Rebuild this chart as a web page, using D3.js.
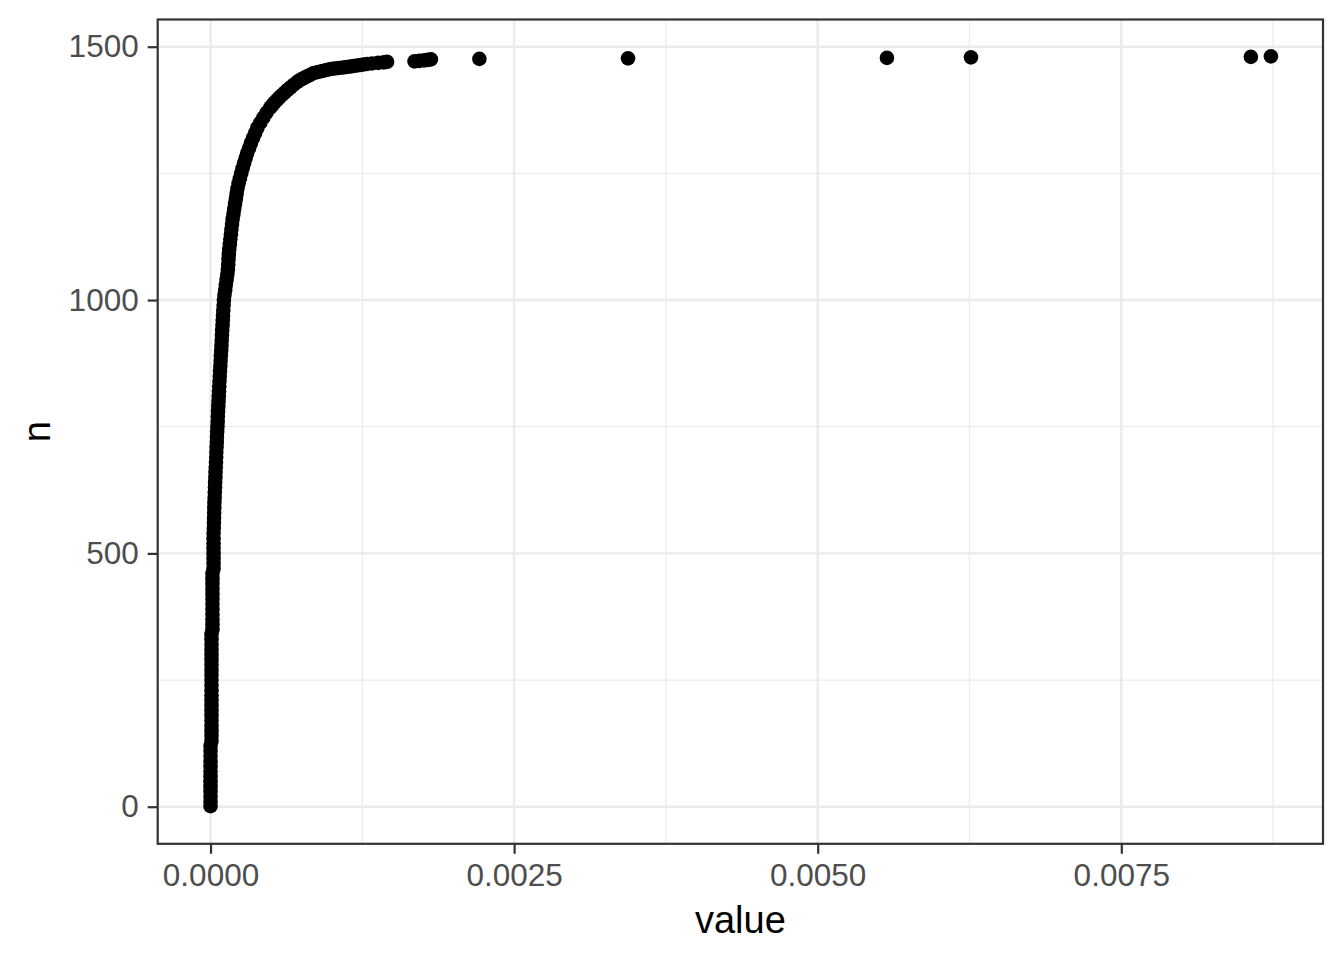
<!DOCTYPE html>
<html>
<head>
<meta charset="utf-8">
<script src="https://cdn.jsdelivr.net/npm/d3@7"></script>
<style>
  body { margin: 0; background: #fff; }
  svg { display: block; font-family: "Liberation Sans", Arial, sans-serif; }
</style>
</head>
<body>
<svg id="chart" width="1344" height="960"></svg>
<script>
// rank n and value (in units of 1e-6)
var ranks = [
  1, 10, 20, 30, 40, 50, 60, 70, 80, 90,
  100, 110, 120, 130, 140, 150, 160, 170, 180, 190,
  200, 210, 220, 230, 240, 250, 260, 270, 280, 290,
  300, 310, 320, 330, 340, 350, 360, 370, 380, 390,
  400, 410, 420, 430, 440, 450, 460, 470, 480, 490,
  500, 510, 520, 530, 540, 550, 560, 570, 580, 590,
  600, 610, 620, 630, 640, 650, 660, 670, 680, 690,
  700, 710, 720, 730, 740, 750, 760, 770, 780, 790,
  800, 810, 820, 830, 840, 850, 860, 870, 880, 890,
  900, 910, 920, 930, 940, 950, 960, 970, 980, 990,
  1000, 1010, 1020, 1030, 1040, 1050, 1060, 1070, 1080, 1090,
  1100, 1110, 1120, 1130, 1140, 1150, 1160, 1170, 1180, 1190,
  1200, 1210, 1220, 1230, 1240, 1250, 1260, 1270, 1280, 1290,
  1300, 1310, 1320, 1330, 1340, 1350, 1360, 1370, 1380,
  1385, 1390, 1395, 1400, 1405, 1410, 1415, 1420, 1425, 1430,
  1433, 1436, 1439, 1442, 1445, 1448, 1450, 1452, 1454, 1456,
  1457, 1458, 1459, 1460, 1461, 1462, 1463, 1464, 1465, 1466,
  1467, 1468, 1469,
  1470, 1471, 1472, 1473, 1474, 1475, 1476, 1477, 1478, 1479, 1480, 1481
];
var valuesE6 = [
  0, 0, 0, 0, 0, 0, 0, 0, 0, 0,
  0, 0, 0, 8, 8, 8, 8, 8, 8, 8,
  8, 8, 8, 8, 8, 8, 8, 8, 8, 8,
  8, 8, 8, 8, 8, 16, 16, 16, 16, 16,
  16, 16, 16, 16, 16, 16, 16, 25, 25, 25,
  25, 25, 25, 25, 25, 27, 28, 29, 30, 31,
  32, 34, 35, 37, 38, 40, 41, 43, 45, 47,
  48, 50, 52, 53, 55, 57, 59, 60, 62, 64,
  66, 68, 70, 72, 74, 76, 78, 81, 83, 85,
  88, 90, 92, 94, 96, 99, 101, 103, 105, 108,
  110, 115, 121, 126, 132, 138, 143, 146, 148, 151,
  154, 159, 163, 168, 172, 177, 182, 189, 195, 202,
  209, 215, 222, 231, 242, 253, 264, 276, 289, 302,
  318, 333, 350, 368, 386, 410, 435, 462, 493,
  510, 528, 548, 568, 590, 613, 636, 660, 686, 712,
  730, 752, 775, 800, 825, 850, 885, 920, 955, 988,
  1020, 1055, 1090, 1120, 1152, 1180, 1210, 1235, 1262, 1290,
  1330, 1380, 1427,
  1454, 1680, 1720, 1760, 1790, 1815, 2214, 3438, 5570, 6262, 8567, 8732
];

var xMajor = [0, 0.0025, 0.005, 0.0075];
var xMinor = [0.00125, 0.00375, 0.00625, 0.00875];
var yMajor = [0, 500, 1000, 1500];
var yMinor = [250, 750, 1250];

var data = ranks.map(function(n, i) {
  return { n: n, value: valuesE6[i] * 1e-6 };
});

var panel = { left: 157.7, right: 1323, top: 19.5, bottom: 843.8 };

var svg = d3.select("#chart");

var xScale = d3.scaleLinear()
  .domain([-0.000435, 0.009161])
  .range([panel.left, panel.right]);
var yScale = d3.scaleLinear()
  .domain([-73.2, 1553.7])
  .range([panel.bottom, panel.top]);

// panel background
svg.append("rect")
  .attr("x", panel.left).attr("y", panel.top)
  .attr("width", panel.right - panel.left)
  .attr("height", panel.bottom - panel.top)
  .attr("fill", "#fff");

var grid = svg.append("g");

// minor grid
grid.selectAll(".xminor").data(xMinor).enter().append("line")
  .attr("x1", d => xScale(d)).attr("x2", d => xScale(d))
  .attr("y1", panel.top).attr("y2", panel.bottom)
  .attr("stroke", "#ebebeb").attr("stroke-width", 1.2);
grid.selectAll(".yminor").data(yMinor).enter().append("line")
  .attr("y1", d => yScale(d)).attr("y2", d => yScale(d))
  .attr("x1", panel.left).attr("x2", panel.right)
  .attr("stroke", "#ebebeb").attr("stroke-width", 1.2);

// major grid
grid.selectAll(".xmajor").data(xMajor).enter().append("line")
  .attr("x1", d => xScale(d)).attr("x2", d => xScale(d))
  .attr("y1", panel.top).attr("y2", panel.bottom)
  .attr("stroke", "#ebebeb").attr("stroke-width", 2.4);
grid.selectAll(".ymajor").data(yMajor).enter().append("line")
  .attr("y1", d => yScale(d)).attr("y2", d => yScale(d))
  .attr("x1", panel.left).attr("x2", panel.right)
  .attr("stroke", "#ebebeb").attr("stroke-width", 2.4);

// points
svg.append("g")
  .selectAll("circle")
  .data(data)
  .enter()
  .append("circle")
  .attr("cx", d => xScale(d.value))
  .attr("cy", d => yScale(d.n))
  .attr("r", 7.3)
  .attr("fill", "#000");

// panel border
svg.append("rect")
  .attr("x", panel.left).attr("y", panel.top)
  .attr("width", panel.right - panel.left)
  .attr("height", panel.bottom - panel.top)
  .attr("fill", "none")
  .attr("stroke", "#333333")
  .attr("stroke-width", 2.2);

// axes
var xAxis = d3.axisBottom(xScale)
  .tickValues(xMajor)
  .tickFormat(d3.format(".4f"))
  .tickSize(10)
  .tickPadding(10);
var yAxis = d3.axisLeft(yScale)
  .tickValues(yMajor)
  .tickFormat(d3.format("d"))
  .tickSize(10)
  .tickPadding(9);

var gx = svg.append("g")
  .attr("transform", "translate(0," + panel.bottom + ")")
  .call(xAxis);
var gy = svg.append("g")
  .attr("transform", "translate(" + panel.left + ",0)")
  .call(yAxis);

[gx, gy].forEach(function(g) {
  g.select(".domain").remove();
  g.selectAll(".tick line").attr("stroke", "#333333").attr("stroke-width", 2.2);
  g.selectAll(".tick text")
    .attr("fill", "#4d4d4d")
    .style("font-size", "31.5px")
    .style("font-family", "'Liberation Sans', Arial, sans-serif");
});

// axis titles
svg.append("text")
  .attr("x", (panel.left + panel.right) / 2)
  .attr("y", 933)
  .attr("text-anchor", "middle")
  .style("font-size", "38px")
  .attr("fill", "#000")
  .text("value");

svg.append("text")
  .attr("transform", "translate(50," + (panel.top + panel.bottom) / 2 + ") rotate(-90)")
  .attr("text-anchor", "middle")
  .style("font-size", "38px")
  .attr("fill", "#000")
  .text("n");
</script>
</body>
</html>
